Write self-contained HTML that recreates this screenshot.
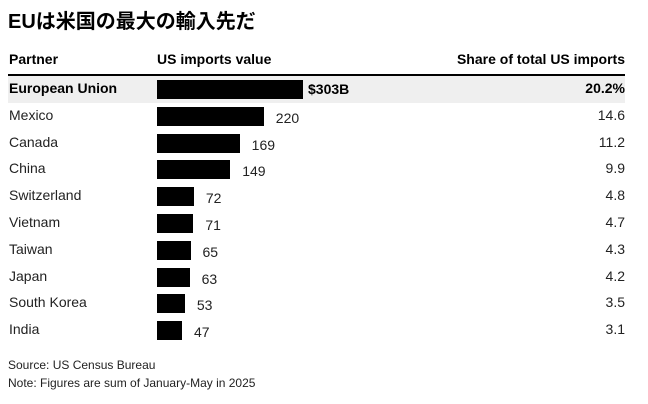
<!DOCTYPE html>
<html><head><meta charset="utf-8"><style>
body{margin:0;width:648px;height:404px;background:#fff;font-family:"Liberation Sans","Noto Sans CJK JP",sans-serif;color:#000;position:relative;overflow:hidden}
.a{position:absolute;white-space:nowrap}
.t{left:8px;top:5px;font-size:20px;font-weight:bold}
.h{font-size:14px;font-weight:bold;top:51px}
.r{font-size:14px;color:#222}
.bar{position:absolute;background:#000;height:19px;left:157px}
.f{font-size:12px;left:8px;color:#222}
</style></head><body>
<div class="a t">EUは米国の最大の輸入先だ</div>
<div class="a h" style="left:9px">Partner</div>
<div class="a h" style="left:157px">US imports value</div>
<div class="a h" style="right:23px">Share of total US imports</div>
<div class="a" style="left:8px;width:617px;top:74px;height:2px;background:#000"></div>
<div class="a" style="left:8px;width:617px;top:76px;height:27px;background:#efefef"></div>
<div id="rows"></div>
<div class="a f" style="top:358px">Source: US Census Bureau</div>
<div class="a f" style="top:376px">Note: Figures are sum of January-May in 2025</div>
<script>
var d=[["European Union",303,"$303B","20.2%"],["Mexico",220,"220","14.6"],["Canada",169,"169","11.2"],["China",149,"149","9.9"],["Switzerland",72,"72","4.8"],["Vietnam",71,"71","4.7"],["Taiwan",65,"65","4.3"],["Japan",63,"63","4.2"],["South Korea",53,"53","3.5"],["India",47,"47","3.1"]];
var h="";d.forEach(function(r,i){var c=89+i*26.8,w=r[1]*0.4727+2.8,b=i==0?"font-weight:bold;color:#000;":"";
h+='<div class="a r" style="'+b+'left:9px;top:'+(c-9)+'px">'+r[0]+'</div>';
h+='<div class="bar" style="top:'+(c-9)+'px;width:'+w+'px"></div>';
h+='<div class="a r" style="'+b+'left:'+(157+w+(i==0?5:12))+'px;top:'+(c-8+(i==0?0:2))+'px">'+r[2]+'</div>';
h+='<div class="a r" style="'+b+'right:23px;top:'+(c-9)+'px">'+r[3]+'</div>';});
document.getElementById("rows").innerHTML=h;
</script>
</body></html>
